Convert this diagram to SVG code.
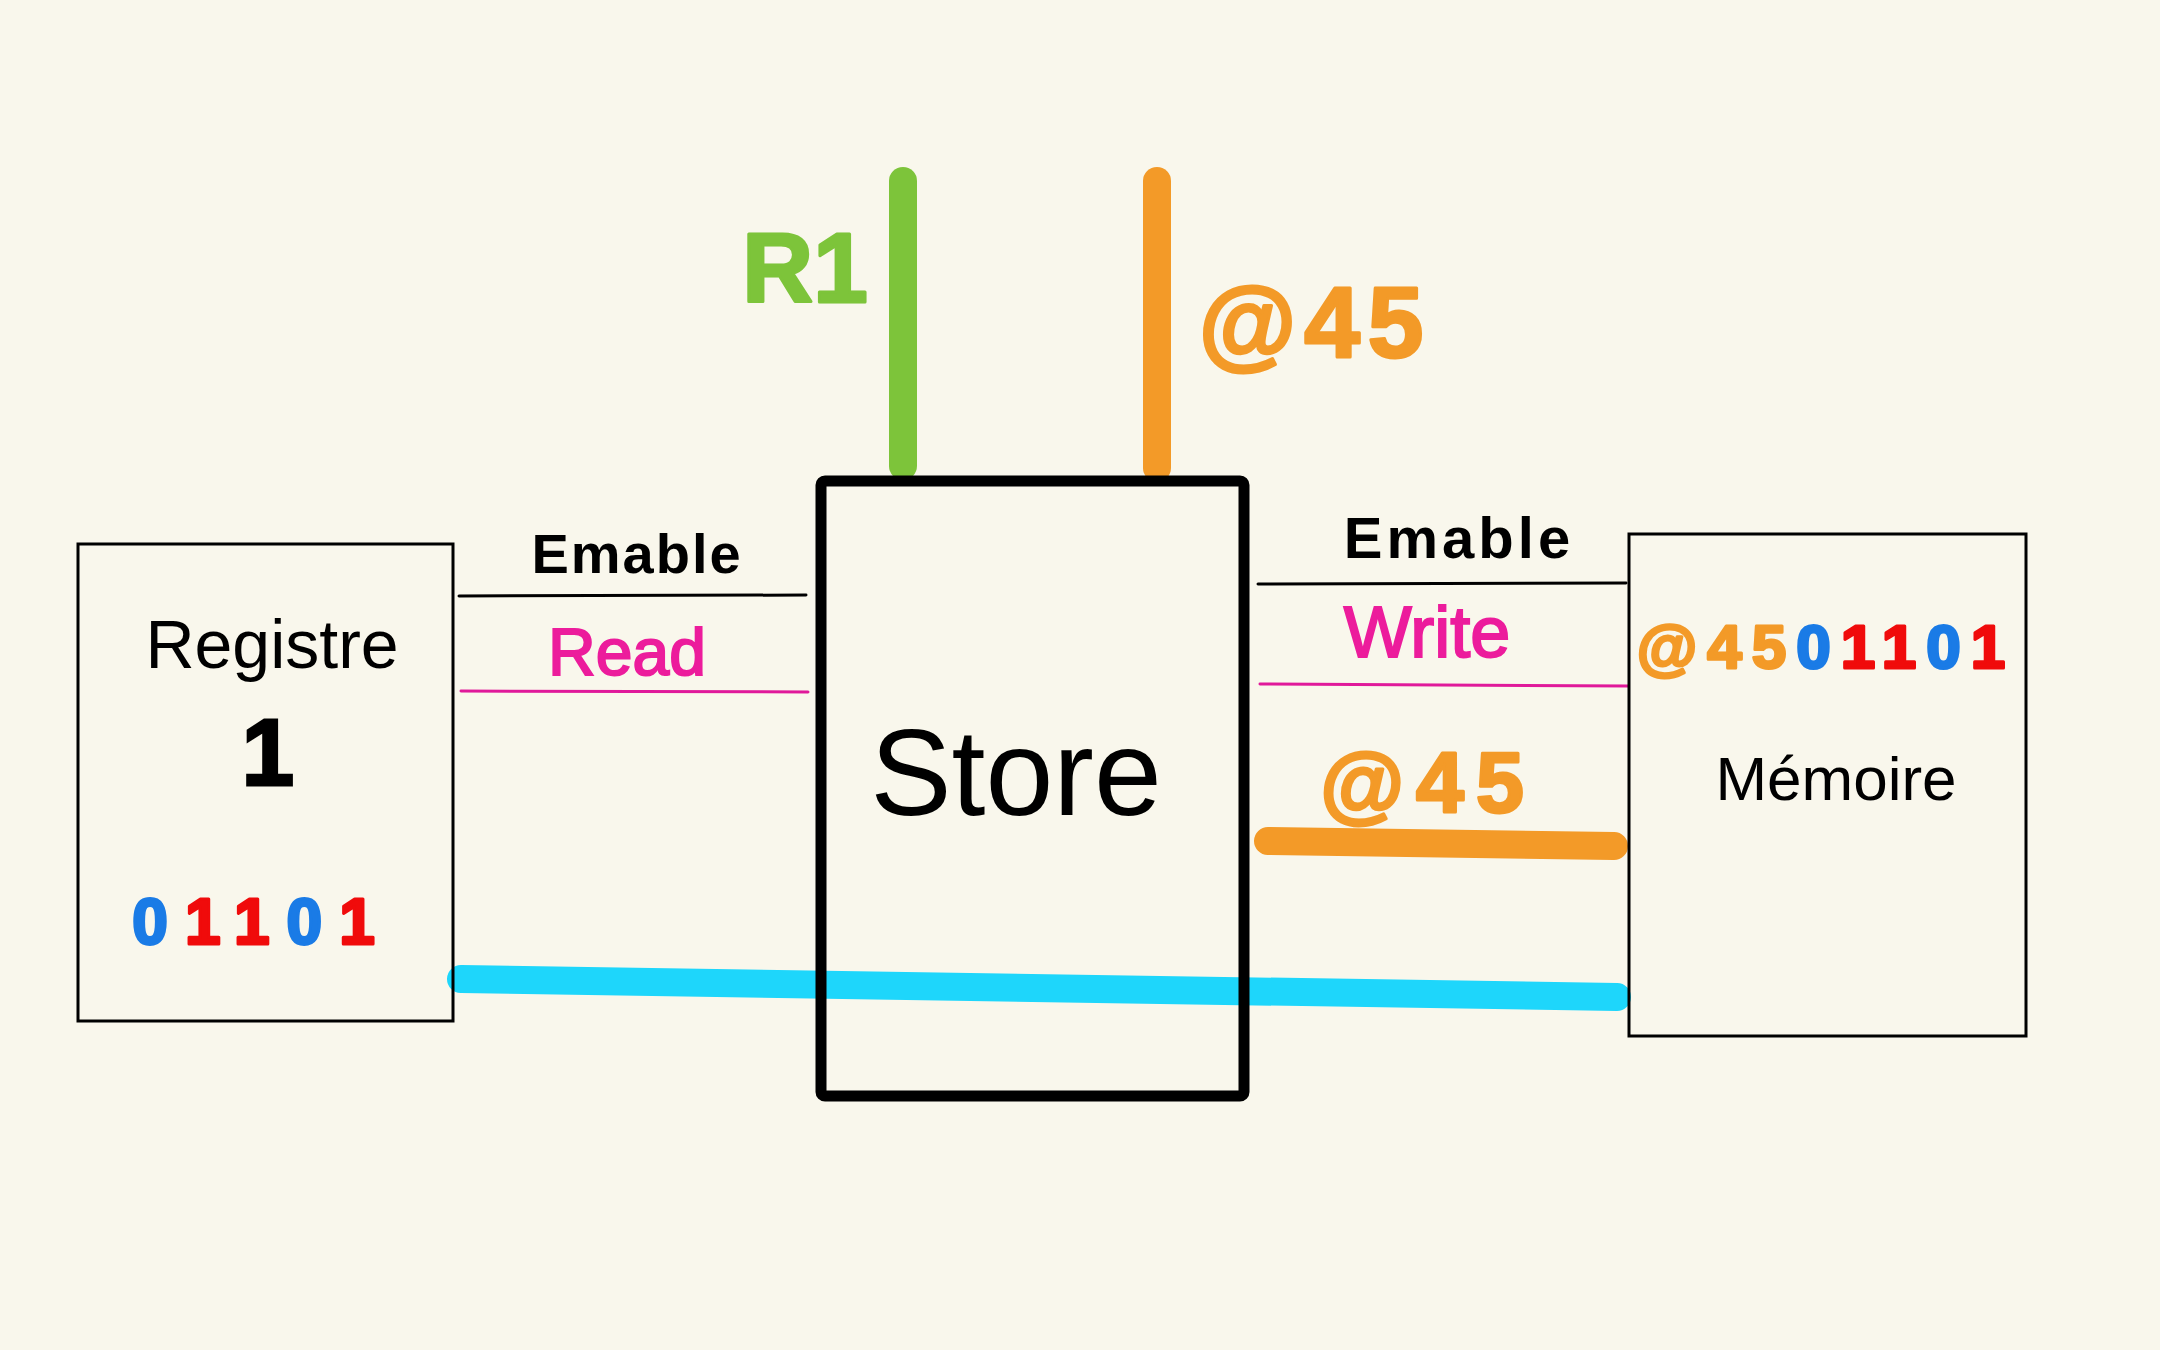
<svg xmlns="http://www.w3.org/2000/svg" width="2160" height="1350" viewBox="0 0 2160 1350">
<style>
.bg{fill:#F9F7EC}
.box{fill:none;stroke:#000;stroke-width:3}
.store{fill:none;stroke:#000;stroke-width:11;stroke-linejoin:round}
.wire{fill:none;stroke-linecap:round;stroke-width:28}
.thin{fill:none;stroke-width:3;stroke-linecap:round}
.t{font-family:"Liberation Sans","DejaVu Sans",sans-serif;text-anchor:middle}
.hand{font-weight:normal}
.en{font-weight:bold}
.mk{font-weight:bold;stroke-linejoin:round}
.blk{fill:#000}
.pink{fill:#EC1C9C;stroke:#EC1C9C;stroke-width:2}
.org{fill:#F39A28;stroke:#F39A28;stroke-width:3}
.grn{fill:#7DC43A;stroke:#7DC43A;stroke-width:3}
.red{fill:#F00B0B;stroke:#F00B0B;stroke-width:3}
.blu{fill:#1A7BE6;stroke:#1A7BE6;stroke-width:3}
</style>
<rect class="bg" x="0" y="0" width="2160" height="1350"/>
<g id="connectors">
  <line class="wire" x1="903" y1="181" x2="903" y2="466" stroke="#7DC43A"/>
  <line class="wire" x1="1157" y1="181" x2="1157" y2="468" stroke="#F39A28"/>
  <line class="thin" x1="459" y1="596" x2="806" y2="595" stroke="#000"/>
  <line class="thin" x1="461" y1="691" x2="808" y2="692" stroke="#E0199A"/>
  <line class="thin" x1="1258" y1="584" x2="1626" y2="583" stroke="#000"/>
  <line class="thin" x1="1260" y1="684" x2="1628" y2="686" stroke="#E0199A"/>
  <line class="wire" x1="1268" y1="841" x2="1614" y2="846" stroke="#F39A28"/>
  <line class="wire" x1="461" y1="979" x2="1617" y2="997" stroke="#1ED6FB"/>
</g>
<g id="labels">
  <text class="t mk grn" x="805" y="302" font-size="98">R1</text>
  <text class="t mk org" x="1315" y="357" font-size="100" letter-spacing="8">@45</text>
  <text class="t en blk" x="637" y="573" font-size="56" letter-spacing="2">Emable</text>
  <text class="t hand pink" x="627" y="675" font-size="66">Read</text>
  <text class="t en blk" x="1459" y="558" font-size="58" letter-spacing="4">Emable</text>
  <text class="t hand pink" x="1427" y="657" font-size="72">Write</text>
  <text class="t mk org" x="1428" y="812" font-size="86" letter-spacing="12">@45</text>
</g>
<g id="registre">
  <rect class="box" x="78" y="544" width="375" height="477"/>
  <text class="t hand blk" x="272" y="668" font-size="68">Registre</text>
  <text class="t blk" x="268" y="785" font-size="94" font-weight="bold" stroke="#000" stroke-width="3">1</text>
  <text class="t mk" x="262" y="944" font-size="64" letter-spacing="17"><tspan class="blu">0</tspan><tspan class="red">1</tspan><tspan class="red">1</tspan><tspan class="blu">0</tspan><tspan class="red">1</tspan></text>
</g>
<g id="store">
  <rect class="store" x="821" y="481" width="423" height="615" rx="4"/>
  <text class="t blk" x="1016" y="815" font-size="122">Store</text>
</g>
<g id="memoire">
  <rect class="box" x="1629" y="534" width="397" height="502"/>
  <text class="t mk" x="1826" y="668" font-size="62" letter-spacing="10"><tspan class="org">@45</tspan><tspan class="blu">0</tspan><tspan class="red">1</tspan><tspan class="red">1</tspan><tspan class="blu">0</tspan><tspan class="red">1</tspan></text>
  <text class="t hand blk" x="1836" y="800" font-size="62">Mémoire</text>
</g>
</svg>
